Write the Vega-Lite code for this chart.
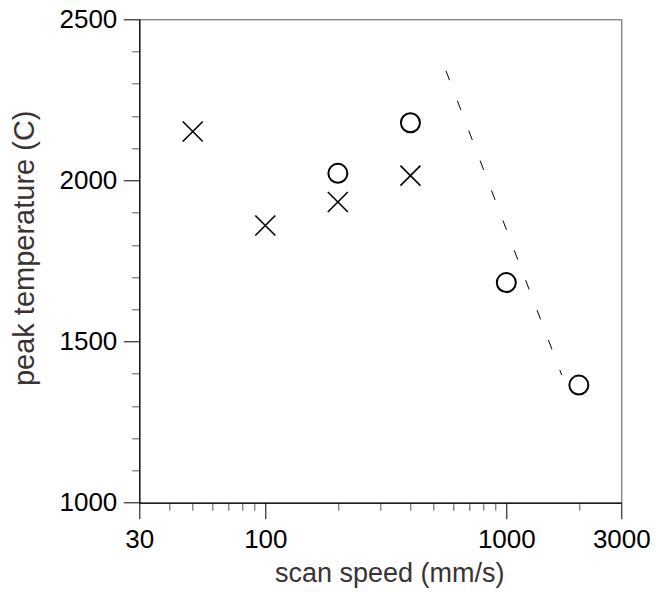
{
  "$schema": "https://vega.github.io/schema/vega-lite/v6.json",
  "width": 482,
  "height": 483.4,
  "autosize": {"type": "none"},
  "padding": {"left": 139.3, "top": 19.3, "right": 34.7, "bottom": 89.3},
  "background": "white",
  "config": {
    "view": {"stroke": "#555555", "strokeWidth": 1},
    "axis": {
      "grid": false,
      "labelFont": "Liberation Sans",
      "labelFontSize": 26,
      "labelColor": "black",
      "titleFont": "Liberation Sans",
      "titleFontSize": 27,
      "titleFontWeight": "normal",
      "titleColor": "#3a3333",
      "domainColor": "black",
      "domainWidth": 1.2,
      "labelOverlap": false,
      "labelFlush": false,
      "labelBound": false
    }
  },
  "datasets": {
    "crosses": [
      {"speed": 50, "temp": 2152},
      {"speed": 100, "temp": 1860},
      {"speed": 200, "temp": 1933},
      {"speed": 400, "temp": 2015}
    ],
    "circles": [
      {"speed": 200, "temp": 2022},
      {"speed": 400, "temp": 2179},
      {"speed": 1000, "temp": 1683},
      {"speed": 2000, "temp": 1365}
    ],
    "fit": [
      {"speed": 562, "temp": 2340},
      {"speed": 1698, "temp": 1396}
    ]
  },
  "encoding": {
    "x": {
      "field": "speed",
      "type": "quantitative",
      "scale": {"type": "log", "domain": [30, 3000], "nice": false},
      "axis": {
        "title": "scan speed (mm/s)",
        "values": [30, 40, 50, 60, 70, 80, 90, 100, 200, 300, 400, 500, 600, 700, 800, 900, 1000, 2000, 3000],
        "format": "d",
        "labelExpr": "indexof([30, 100, 1000, 3000], datum.value) >= 0 ? datum.label : ''",
        "tickSize": {"condition": {"test": "indexof([30, 100, 1000, 3000], datum.value) >= 0", "value": 16}, "value": 7.5},
        "tickColor": {"condition": {"test": "indexof([30, 100, 1000, 3000], datum.value) >= 0", "value": "black"}, "value": "#555555"},
        "labelPadding": 8,
        "titleBaseline": "alphabetic",
        "titleY": 79,
        "titleX": 250
      }
    },
    "y": {
      "field": "temp",
      "type": "quantitative",
      "scale": {"domain": [1000, 2500], "nice": false, "zero": false},
      "axis": {
        "title": "peak temperature (C)",
        "titleFontSize": 29,
        "values": [1000, 1100, 1200, 1300, 1400, 1500, 1600, 1700, 1800, 1900, 2000, 2100, 2200, 2300, 2400, 2500],
        "format": "d",
        "labelExpr": "datum.value % 500 === 0 ? datum.label : ''",
        "tickSize": {"condition": {"test": "datum.value % 500 === 0", "value": 16}, "value": 7.5},
        "tickColor": {"condition": {"test": "datum.value % 500 === 0", "value": "black"}, "value": "#555555"},
        "labelPadding": 6.5,
        "titleBaseline": "alphabetic",
        "titleAngle": 270,
        "titleX": -106,
        "titleY": 228.5
      }
    }
  },
  "layer": [
    {
      "data": {"name": "fit"},
      "mark": {"type": "line", "color": "black", "strokeWidth": 1, "strokeDash": [10, 22]}
    },
    {
      "data": {"name": "crosses"},
      "mark": {"type": "point", "shape": "M-1,-1L1,1M-1,1L1,-1", "filled": false, "stroke": "black", "strokeWidth": 1.6, "size": 400, "opacity": 1}
    },
    {
      "data": {"name": "circles"},
      "mark": {"type": "point", "shape": "circle", "filled": false, "stroke": "black", "strokeWidth": 2, "size": 361, "opacity": 1}
    }
  ]
}
